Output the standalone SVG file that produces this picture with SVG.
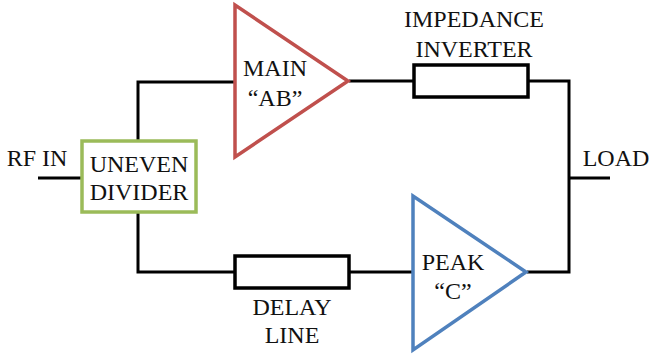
<svg xmlns="http://www.w3.org/2000/svg" width="651" height="356" viewBox="0 0 651 356">
<style>
.w{fill:none;stroke:#000;stroke-width:3}
.r{fill:#fff;stroke:#000;stroke-width:3.5}
text{font-size:24px;fill:#111;text-anchor:middle}
</style>
<rect width="651" height="356" fill="#fff"/>
<g id="connectors">
<path class="w" d="M38 178H82"/>
<path class="w" d="M138 141V82H235"/>
<path class="w" d="M138 212V272H235"/>
<path class="w" d="M349 81H414"/>
<path class="w" d="M528 81H569V272H527"/>
<path class="w" d="M349 272H413"/>
<path class="w" d="M569 178H610"/>
</g>
<g font-family="'Liberation Serif', 'Times New Roman', serif">
<g id="rfin"><text x="37" y="166">RF IN</text></g>
<g id="divider">
<rect x="82" y="141" width="114" height="71" fill="#fff" stroke="#9BBB59" stroke-width="3.5"/>
<text x="139" y="172">UNEVEN</text>
<text x="139" y="200">DIVIDER</text>
</g>
<g id="main">
<polygon points="235,5 235,157 348,81" fill="#fff" stroke="#C0504D" stroke-width="3.5"/>
<text x="275" y="76">MAIN</text>
<text x="275" y="106">“AB”</text>
</g>
<g id="inverter">
<rect x="414" y="65" width="114" height="32" class="r"/>
<text x="474" y="27">IMPEDANCE</text>
<text x="474" y="57">INVERTER</text>
</g>
<g id="delay">
<rect x="235" y="256" width="114" height="32" class="r"/>
<text x="292" y="315">DELAY</text>
<text x="292" y="343">LINE</text>
</g>
<g id="peak">
<polygon points="413,196 413,350 526,272" fill="#fff" stroke="#4F81BD" stroke-width="3.5"/>
<text x="453" y="270">PEAK</text>
<text x="453" y="299">“C”</text>
</g>
<g id="load"><text x="616" y="166">LOAD</text></g>
</g>
</svg>
